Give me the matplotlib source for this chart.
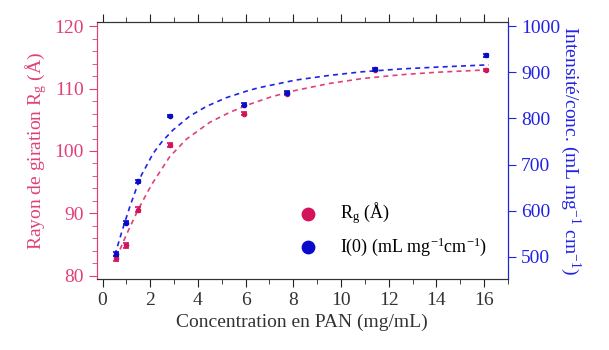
import numpy as np
import matplotlib
matplotlib.use("Agg")
import matplotlib.pyplot as plt
from matplotlib.ticker import MultipleLocator

plt.rcParams['font.family'] = ['Liberation Serif', 'DejaVu Serif']
plt.rcParams['mathtext.fontset'] = 'custom'
plt.rcParams['mathtext.rm'] = 'Liberation Serif'
plt.rcParams['mathtext.it'] = 'Liberation Serif:italic'

pink = "#d4145a"
pink_axis = "#e0407a"
blue = "#0a0acc"
blue_axis = "#2222e6"

# measured points
conc = [0.56, 0.98, 1.49, 2.84, 5.94, 7.75, 11.42, 16.1]
rg = [82.8, 84.9, 90.6, 101.0, 106.0, 109.2, 113.0, 113.0]
rg_err = [0.4, 0.4, 0.4, 0.3, 0.3, 0.3, 0.2, 0.2]
i0 = [506, 574, 664, 805, 830, 856, 906, 937]
i0_err = [4, 3, 3, 3, 3, 3, 3, 3]

# fit curves
rg_fit_x = [0.58, 1.0, 1.49, 1.91, 2.12, 2.82, 3.52, 4.5, 5.34, 6.18, 7.1, 8.1, 9.5,
            10.9, 12.5, 14.0, 16.2]
rg_fit_y = [82.9, 86.6, 90.6, 93.6, 95.0, 99.1, 101.9, 104.6, 106.2, 107.5, 108.7, 109.7,
            110.8, 111.6, 112.2, 112.6, 113.0]
i0_fit_x = [0.52, 0.8, 1.14, 1.43, 1.63, 1.85, 2.12, 2.5, 2.96, 3.66, 4.36, 5.2, 6.04,
            6.52, 8.1, 9.5, 10.9, 12.5, 14.0, 16.2]
i0_fit_y = [504, 553, 608, 650, 677, 698, 724, 750, 775, 805, 826, 845, 859,
            866, 883, 893, 901, 907, 911, 916]

fig = plt.figure(figsize=(6.09, 3.5), dpi=100)
ax = fig.add_axes([0.159, 0.203, 0.675, 0.734])
ax2 = ax.twinx()

ax.plot(rg_fit_x, rg_fit_y, color=pink_axis, ls=(0, (3, 2.5)), lw=1.2)
ax.errorbar(conc, rg, yerr=rg_err, fmt='o', ms=3, color=pink, ecolor=pink,
            capsize=2.5, elinewidth=1, capthick=1.2)
ax2.plot(i0_fit_x, i0_fit_y, color=blue_axis, ls=(0, (3, 2.5)), lw=1.2)
ax2.errorbar(conc, i0, yerr=i0_err, fmt='o', ms=3, color=blue, ecolor=blue,
             capsize=2.5, elinewidth=1, capthick=1.2)

ax.set_xlim(-0.24, 17.0)
ax.set_ylim(79.52, 120.64)
ax2.set_ylim(452, 1008.7)

ax.xaxis.set_major_locator(MultipleLocator(2))
ax.xaxis.set_minor_locator(MultipleLocator(1))
ax.yaxis.set_major_locator(MultipleLocator(10))
ax.yaxis.set_minor_locator(MultipleLocator(2))
ax2.yaxis.set_major_locator(MultipleLocator(100))

ax.tick_params(axis='x', which='both', direction='out', top=True, colors='#222222',
               labelsize=14, labelcolor='#333333')
ax.tick_params(axis='x', which='major', length=6)
ax.tick_params(axis='x', which='minor', length=3.5)
ax.tick_params(axis='y', which='both', direction='out', colors=pink_axis, labelsize=14)
ax.tick_params(axis='y', which='major', length=6)
ax.tick_params(axis='y', which='minor', length=3.5)
ax2.tick_params(axis='y', direction='out', colors=blue_axis, labelsize=14, length=6)

ax.spines['left'].set_color(pink_axis)
ax2.spines['left'].set_color(pink_axis)
ax2.spines['right'].set_color(blue_axis)
for sp in ['top', 'bottom']:
    ax.spines[sp].set_color('#333333')
    ax2.spines[sp].set_color('#333333')

ax.set_xlabel("Concentration en PAN (mg/mL)", fontsize=14, color='#333333', labelpad=3)
ax.set_ylabel("Rayon de giration R$_\\mathrm{g}$ (Å)", fontsize=14, color=pink_axis, labelpad=4)
ax2.set_ylabel("Intensité/conc. (mL mg$^{-1}$ cm$^{-1}$)", fontsize=14, color=blue_axis,
               rotation=270, labelpad=16)

h1 = ax.scatter([], [], s=80, color=pink)
h2 = ax.scatter([], [], s=80, color=blue)
ax.legend([h1, h2], ["R$_\\mathrm{g}$ (Å)", "I(0) (mL mg$^{-1}$cm$^{-1}$)"],
          loc='lower right', bbox_to_anchor=(0.99, 0.02), frameon=False,
          fontsize=13, handletextpad=0.8, labelspacing=0.5)

fig.savefig("out.png", dpi=100)
